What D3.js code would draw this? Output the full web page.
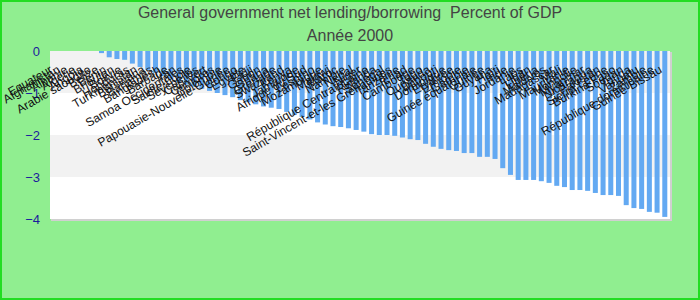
<!DOCTYPE html>
<html>
<head>
<meta charset="utf-8">
<script src="https://cdn.jsdelivr.net/npm/d3@7"></script>
<style>
  body { margin: 0; }
  svg { display: block; font-family: "Liberation Sans", Arial, sans-serif; }
</style>
</head>
<body>
<div id="chart"></div>
<script>
// data
const countries = [
  "Equateur", "Afghanistan", "Albanie", "Algérie", "Angola", "Arabie saoudite",
  "Belize", "Bénin", "Bhoutan", "Bolivie", "Honduras", "Turkménistan",
  "Botswana", "Bahamas", "Bangladesh", "Barbade", "Iran", "Samoa Occidentales",
  "Sainte-Lucie", "Seychelles", "Cap-Vert", "Comores", "Colombie",
  "Papouasie-Nouvelle-Guinée", "Congo", "Egypte", "Fidji", "Gabon", "Ghana", "Grenade",
  "Swaziland", "Kenya", "Jamaïque", "Afrique du Sud", "Lesotho", "Mozambique",
  "Malawi", "Maroc", "Namibie", "Népal", "Niger", "République Centrafricaine",
  "Rwanda", "Sénégal", "Saint-Vincent-et-les Grenadines", "Tanzanie", "Tchad",
  "Cambodge", "Togo", "Ouganda", "Djibouti", "Dominique", "Erythrée", "Ethiopie",
  "Gambie", "Guinée équatoriale", "Guinée", "Guyana", "Haïti", "Inde",
  "Jordanie", "Laos", "Liban", "Libéria", "Maldives", "Madagascar", "Mali",
  "Mauritanie", "Mongolie", "Myanmar", "Nicaragua", "Pakistan", "Sierra Leone",
  "Burkina Faso", "Soudan", "Tonga", "Vanuatu", "Zambie",
  "République dominicaine", "Guinée-Bissau"
];
const values = [
  0, 0, 0, 0, 0, 0,
  -0.05, -0.15, -0.19, -0.21, -0.30, -0.38,
  -0.45, -0.52, -0.60, -0.68, -0.75, -0.80,
  -0.85, -0.90, -0.95, -1.00, -1.05,
  -1.10, -1.17, -1.22, -1.27, -1.32, -1.35, -1.38,
  -1.45, -1.52, -1.57, -1.63, -1.70, -1.75,
  -1.79, -1.81, -1.84, -1.88, -1.92, -1.98,
  -2.00, -2.00, -2.02, -2.06, -2.10,
  -2.12, -2.21, -2.28, -2.33, -2.36, -2.38, -2.43,
  -2.43, -2.52, -2.52, -2.57, -2.79, -2.95,
  -3.07, -3.07, -3.07, -3.10, -3.14, -3.21, -3.24,
  -3.31, -3.31, -3.33, -3.38, -3.43, -3.43,
  -3.45, -3.67, -3.74, -3.76, -3.83,
  -3.85, -3.95
];
const yTicks = [0, -1, -2, -3, -4];
const title = "General government net lending/borrowing  Percent of GDP";
const subtitle = "Année 2000";

const W = 700, H = 300;
const margin = { top: 51, right: 30, bottom: 81, left: 50 };
const width = W - margin.left - margin.right;
const height = H - margin.top - margin.bottom;

const svg = d3.select("#chart").append("svg")
    .attr("width", W)
    .attr("height", H);

// background + green border
svg.append("rect")
    .attr("x", 1).attr("y", 1)
    .attr("width", W - 2).attr("height", H - 2)
    .attr("fill", "#90ee90")
    .attr("stroke", "#22dd22")
    .attr("stroke-width", 2);

svg.append("text")
    .attr("x", W / 2).attr("y", 18)
    .attr("text-anchor", "middle")
    .attr("font-size", 16)
    .attr("fill", "#444")
    .style("white-space", "pre")
    .text(title);

svg.append("text")
    .attr("x", W / 2).attr("y", 41)
    .attr("text-anchor", "middle")
    .attr("font-size", 16)
    .attr("fill", "#444")
    .text(subtitle);

const g = svg.append("g")
    .attr("transform", `translate(${margin.left},${margin.top})`);

const x = d3.scaleBand()
    .domain(countries)
    .range([0, width])
    .padding(0.35);

const y = d3.scaleLinear()
    .domain([-4, 0])
    .range([height, 0]);

// frame shadow
g.append("rect")
    .attr("x", 1).attr("y", 1)
    .attr("width", width + 1).attr("height", height + 1)
    .attr("fill", "#d0d0d0");

// alternating bands
const bands = yTicks.slice(0, -1);
g.selectAll(".band")
    .data(bands)
    .enter()
    .append("rect")
    .attr("class", "band")
    .attr("x", 0)
    .attr("y", d => y(d))
    .attr("width", width)
    .attr("height", d => y(d - 1) - y(d))
    .attr("fill", (d, i) => i % 2 === 0 ? "#f2f2f2" : "#ffffff");

// bars
g.selectAll(".bar")
    .data(values)
    .enter()
    .append("rect")
    .attr("class", "bar")
    .attr("x", (d, i) => x(countries[i]))
    .attr("y", y(0))
    .attr("width", x.bandwidth())
    .attr("height", d => y(d) - y(0))
    .attr("fill", "#63a9f2");

// y axis
const yAxis = g.append("g")
    .call(d3.axisLeft(y).tickValues(yTicks).tickSize(0).tickPadding(10).tickFormat(d3.format("d")));
yAxis.select(".domain").remove();
yAxis.selectAll("text")
    .attr("font-size", 13)
    .attr("fill", "#1c1c9c")
    .attr("font-family", "Liberation Sans, Arial, sans-serif");

// category labels, rotated, ending near the top of the plot
g.selectAll(".lbl")
    .data(countries)
    .enter()
    .append("text")
    .attr("class", "lbl")
    .attr("transform", d => `translate(${x(d) + x.bandwidth() / 2 - 2},21) rotate(-30)`)
    .attr("text-anchor", "end")
    .attr("font-size", 12)
    .attr("fill", "#111")
    .text(d => d);
</script>
</body>
</html>
